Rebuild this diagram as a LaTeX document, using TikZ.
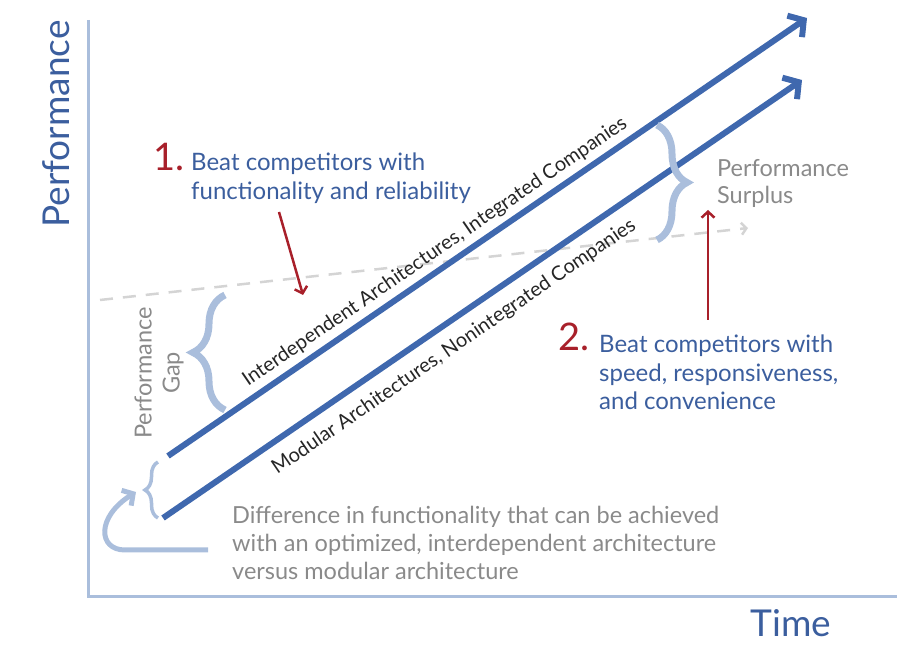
\documentclass[tikz,border=0pt]{standalone}
\usepackage{fontspec}
\setmainfont{Lato}
\usetikzlibrary{arrows.meta,decorations.pathreplacing}
\definecolor{lineblue}{RGB}{63,104,174}
\definecolor{textblue}{RGB}{59,94,158}
\definecolor{darkred}{RGB}{168,32,42}
\definecolor{paleblue}{RGB}{170,190,220}
\definecolor{greytext}{RGB}{138,138,138}
\definecolor{dashgrey}{RGB}{212,212,212}
\begin{document}
\begin{tikzpicture}[x=1pt,y=1pt,
  axisline/.style={draw=paleblue,line width=3pt},
  trend/.style={draw=lineblue,line width=6pt,-{Straight Barb[length=11pt,width=26pt]}},
  redarrow/.style={draw=darkred,line width=2.5pt,-{Straight Barb[length=6pt,width=13pt]}},
  bracestyle/.style={draw=paleblue,decorate,line width=7pt},
  bigtext/.style={font=\fontsize{37}{42}\selectfont,text=textblue,inner sep=0pt},
  bluetext/.style={font=\fontsize{24}{28.5}\selectfont,text=textblue,align=left,inner sep=0pt},
  numtext/.style={font=\fontsize{38}{42}\selectfont,text=darkred,inner sep=0pt},
  greylabel/.style={font=\fontsize{23.5}{28}\selectfont,text=greytext,align=left,inner sep=0pt},
  linelabel/.style={font=\fontsize{20}{24}\selectfont,text=black!85,inner sep=0pt,rotate=34.43}]
\useasboundingbox (0,0) rectangle (897,645);
% axes
\coordinate (ytop) at (88,625);
\coordinate (origin) at (88,48);
\coordinate (xend) at (897,48);
\draw[axisline] (ytop) -- (origin) -- (xend);
\node[bigtext,rotate=90] (ylab) at (56,521) {Performance};
\node[bigtext] (xlab) at (791,22) {Time};
% dashed expectation line
\coordinate (d1) at (100,345);
\coordinate (d2) at (748,417);
\draw[draw=dashgrey,line width=2.5pt,dash pattern=on 13pt off 10pt,-{Straight Barb[length=5pt,width=12pt]}] (d1) -- (d2);
% trend lines
\coordinate (u1) at (168,189);
\coordinate (u2) at (807,627);
\coordinate (l1) at (163,127);
\coordinate (l2) at (802,565);
\draw[trend] (u1) -- (u2);
\draw[trend] (l1) -- (l2);
\node[linelabel] (ulab) at (435,393) {Interdependent Architectures, Integrated Companies};
\node[linelabel] (llab) at (454,298) {Modular Architectures, Nonintegrated Companies};
% braces
\coordinate (sb1) at (657,520);
\coordinate (sb2) at (657,405);
\draw[bracestyle,decoration={brace,amplitude=30pt}] (sb1) -- (sb2);
\coordinate (gb1) at (225,235);
\coordinate (gb2) at (225,350);
\draw[bracestyle,decoration={brace,amplitude=32pt}] (gb1) -- (gb2);
\coordinate (db1) at (158,127);
\coordinate (db2) at (158,183);
\draw[bracestyle,line width=3.5pt,decoration={brace,amplitude=13pt}] (db1) -- (db2);
% curved arrow
\coordinate (c1) at (208,95);
\coordinate (c2) at (125,95);
\coordinate (c3) at (136,153);
\draw[draw=paleblue,line width=5pt,-{Straight Barb[length=8pt,width=18pt]}] (c1) -- (c2) .. controls (98,95) and (96,128) .. (c3);
% labels
\node[numtext,anchor=base west] (n1) at (153,474) {1.};
\node[bluetext,anchor=base west] (t1) at (191,445.5) {Beat competitors with\\functionality and reliability};
\node[numtext,anchor=base west] (n2) at (558,294) {2.};
\node[bluetext,anchor=base west] (t2) at (599,235) {Beat competitors with\\speed, responsiveness,\\and convenience};
\node[greylabel,anchor=base west,font=\fontsize{23.5}{27.5}\selectfont] (surplus) at (717,441) {Performance\\Surplus};
\node[greylabel,rotate=90,align=center] (gap) at (159,272) {Performance\\Gap};
\node[greylabel,anchor=base west] (diff) at (232,65) {Difference in functionality that can be achieved\\with an optimized, interdependent architecture\\versus modular architecture};
% red arrows
\coordinate (r1a) at (279,433);
\coordinate (r1b) at (303,350);
\draw[redarrow] (r1a) -- (r1b);
\coordinate (r2a) at (708,325);
\coordinate (r2b) at (708,435);
\draw[redarrow] (r2a) -- (r2b);
\end{tikzpicture}
\end{document}
